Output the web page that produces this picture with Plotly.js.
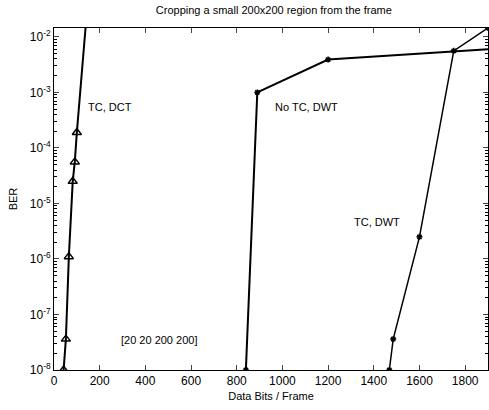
<!DOCTYPE html>
<html><head><meta charset="utf-8">
<script src="https://cdn.plot.ly/plotly-3.0.1.min.js"></script>
<style>html,body{margin:0;padding:0;background:#fff}#chart{width:489px;height:410px}</style>
</head><body><div id="chart"></div>
<script>
const tcDctX = [42, 52, 65, 82, 91, 100, 155];
const tcDctY = [1e-8, 3.6e-8, 1.1e-6, 2.5e-5, 5.6e-5, 1.9e-4, 1e-1];
const noTcDwtX = [840, 890, 1200, 2000];
const noTcDwtY = [1e-8, 1e-3, 3.9e-3, 6.4e-3];
const tcDwtX = [1468, 1485, 1600, 1750, 1900];
const tcDwtY = [1e-8, 3.6e-8, 2.5e-6, 5.6e-3, 1.45e-2];
const yTickVals = [1e-8, 1e-7, 1e-6, 1e-5, 1e-4, 1e-3, 1e-2];
const yTickText = ['10<sup>-8</sup>','10<sup>-7</sup>','10<sup>-6</sup>','10<sup>-5</sup>','10<sup>-4</sup>','10<sup>-3</sup>','10<sup>-2</sup>'];
const xTickVals = [0,200,400,600,800,1000,1200,1400,1600,1800];
const labels = [
  {text:'TC, DCT', x:246, y:5.5e-4},
  {text:'No TC, DWT', x:1106, y:5.5e-4},
  {text:'TC, DWT', x:1413, y:4.7e-6},
  {text:'[20 20 200 200]', x:458, y:3.5e-8}
];
const font = {family:'Liberation Sans, Arial, sans-serif', color:'#000', size:11};
const data = [
  {x:tcDctX, y:tcDctY, mode:'lines+markers', line:{color:'#000', width:2},
   marker:{symbol:'triangle-up-open', size:8, color:'#000', line:{width:1.5}}},
  {x:noTcDwtX, y:noTcDwtY, mode:'lines+markers', line:{color:'#000', width:2},
   marker:{symbol:'asterisk-open', size:5, color:'#000', line:{width:1.5}}},
  {x:tcDwtX, y:tcDwtY, mode:'lines+markers', line:{color:'#000', width:1.5},
   marker:{symbol:'asterisk-open', size:5, color:'#000', line:{width:1.5}}}
];
const layout = {
  width:489, height:410, showlegend:false,
  margin:{l:54, r:1, t:28, b:40},
  paper_bgcolor:'#fff', plot_bgcolor:'#fff', font:font,
  title:{text:'Cropping a small 200x200 region from the frame', font:{family:font.family, size:11, color:'#000'}, x:0.56, xanchor:'center', y:0.985, yanchor:'top'},
  xaxis:{range:[0,1900], tickvals:xTickVals, ticks:'inside', ticklen:5, mirror:'ticks',
    showline:true, linecolor:'#000', linewidth:1, showgrid:false, zeroline:false,
    tickfont:{family:font.family, size:12, color:'#000'},
    title:{text:'Data Bits / Frame', font:{family:font.family, size:11, color:'#000'}, standoff:4}},
  yaxis:{type:'log', range:[-8, -1.84], tickvals:yTickVals, ticktext:yTickText, ticks:'inside', ticklen:5,
    mirror:'ticks', showline:true, linecolor:'#000', linewidth:1, showgrid:false, zeroline:false,
    tickfont:{family:font.family, size:12, color:'#000'},
    minor:{ticks:'inside', ticklen:3, tickcolor:'#000', dtick:'D1', showgrid:false},
    title:{text:'BER', font:{family:font.family, size:11, color:'#000'}, standoff:9}},
  annotations: labels.map(l => ({x:l.x, y:Math.log10(l.y), text:l.text, showarrow:false, xanchor:'center', yanchor:'middle', font:{family:font.family, size:11, color:'#000'}}))
};
Plotly.newPlot('chart', data, layout, {displayModeBar:false, staticPlot:true});
</script></body></html>
